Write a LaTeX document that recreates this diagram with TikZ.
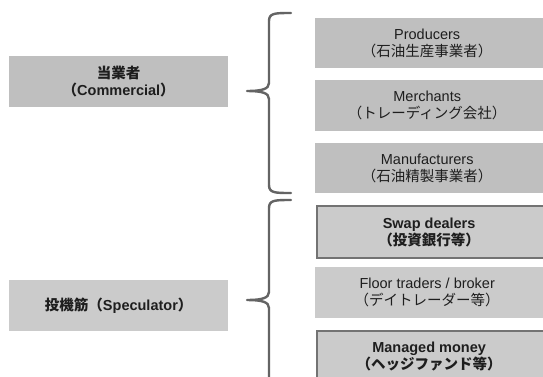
\documentclass[tikz,border=0pt]{standalone}
\usepackage{fontspec}
\setmainfont{Liberation Sans}
\newfontfamily\cjk{Noto Sans CJK JP}
\newcommand\J[1]{{\cjk #1}}
\definecolor{fillA}{HTML}{BFBFBF}
\definecolor{fillB}{HTML}{CBCBCB}
\definecolor{edgeC}{HTML}{737373}
\definecolor{braceC}{HTML}{646464}
\definecolor{txtC}{HTML}{1E1E1E}
\tikzset{
  boxA/.style={fill=fillA, draw=none, anchor=north west, inner sep=0pt, minimum height=50.5pt},
  boxB/.style={fill=fillB, draw=none, anchor=north west, inner sep=0pt, minimum height=50.5pt},
  boxBd/.style={fill=fillB, draw=edgeC, line width=2.2pt, anchor=north west, inner sep=0pt, minimum height=50.5pt},
  txt/.style={align=center, text=txtC, font=\fontsize{14.5}{17}\selectfont, inner sep=0pt},
  txtb/.style={txt, font=\fontsize{14.5}{17}\selectfont\bfseries},
  bracestroke/.style={draw=braceC, line width=2.4pt, line cap=round, line join=round},
}
\begin{document}
\begin{tikzpicture}[x=1pt,y=-1pt]
\useasboundingbox (0,0) rectangle (543,376);
\clip (0,0) rectangle (543,376);
\fill[white] (0,0) rectangle (543,376);
% left boxes
\node[boxA, minimum width=219pt] (lb1) at (9,56) {};
\node[txtb] (lt1) at (lb1.center) {\J{当業者}\\\J{（}Commercial\J{）}};
\node[boxB, minimum width=219pt] (lb2) at (9,280) {};
\node[txtb] (lt2) at (lb2.center) {\J{投機筋（}Speculator\J{）}};
% right boxes
\node[boxA, minimum width=232pt] (prod) at (315,17.5) {};
\node[txt] (prodt) at ([xshift=-4pt]prod.center) {Producers\\\J{（石油生産事業者）}};
\node[boxA, minimum width=232pt] (merch) at (315,80) {};
\node[txt] (mercht) at ([xshift=-4pt]merch.center) {Merchants\\\J{（トレーディング会社）}};
\node[boxA, minimum width=232pt] (manu) at (315,142.5) {};
\node[txt] (manut) at ([xshift=-4pt]manu.center) {Manufacturers\\\J{（石油精製事業者）}};
\node[boxBd, minimum width=240pt, minimum height=52pt] (swap) at (316,205) {};
\node[txtb] (swapt) at ([xshift=-8pt]swap.center) {Swap dealers\\\J{（投資銀行等）}};
\node[boxB, minimum width=232pt] (floor) at (315,267) {};
\node[txt] (floort) at ([xshift=-4pt]floor.center) {Floor traders / broker\\\J{（デイトレーダー等）}};
\node[boxBd, minimum width=240pt, minimum height=51pt] (mm) at (316,330) {};
\node[txtb] (mmt) at ([xshift=-8pt]mm.center) {Managed money\\\J{（ヘッジファンド等）}};
% braces
\coordinate (b1top) at (291,13);
\coordinate (b1tip) at (247,91);
\coordinate (b1bot) at (291,193);
\draw[bracestroke] (b1top) .. controls (275,13) and (269,13) .. (269,21) -- (269,83)
  .. controls (269,89) and (262,91) .. (b1tip)
  .. controls (262,91) and (269,93) .. (269,99) -- (269,185)
  .. controls (269,193) and (275,193) .. (b1bot);
\coordinate (b2top) at (291,200);
\coordinate (b2tip) at (247,300);
\coordinate (b2bot) at (291,400);
\draw[bracestroke] (b2top) .. controls (275,200) and (269,200) .. (269,208) -- (269,292)
  .. controls (269,298) and (262,300) .. (b2tip)
  .. controls (262,300) and (269,302) .. (269,308) -- (269,392)
  .. controls (269,400) and (275,400) .. (b2bot);
\end{tikzpicture}
\end{document}
